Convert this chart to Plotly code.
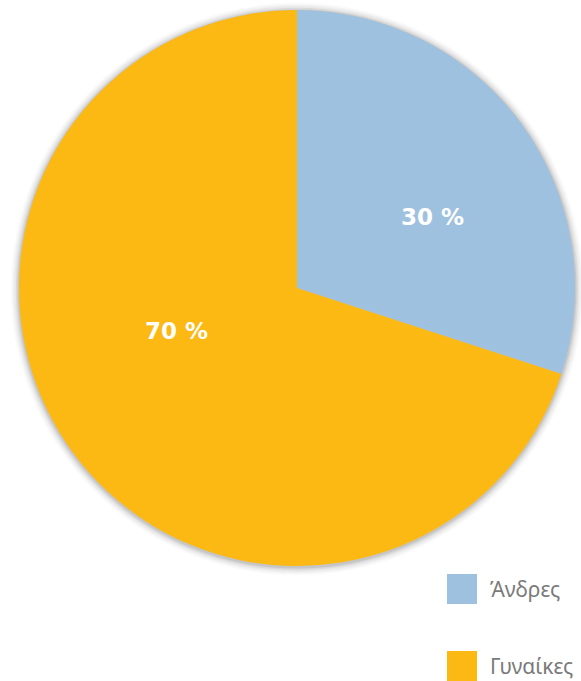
import plotly.graph_objects as go

categories = ["Άνδρες", "Γυναίκες"]
values = [30, 70]
colors = ["#9FC1E0", "#FCB813"]

W, H = 581, 681
cx, cy, r = 297, 288, 278

fig = go.Figure()
fig.add_trace(go.Pie(
    labels=categories,
    values=values,
    sort=False,
    direction="clockwise",
    rotation=0,
    marker=dict(colors=colors, line=dict(width=0)),
    textinfo="none",
    hoverinfo="label+percent",
    showlegend=False,
    domain=dict(x=[(cx - r) / W, (cx + r) / W], y=[1 - (cy + r) / H, 1 - (cy - r) / H]),
))

shapes = []
# soft shadow behind the pie
for i, op in enumerate([0.09, 0.06, 0.04, 0.03, 0.02]):
    d = 1.5 + i * 1.7
    shapes.append(dict(
        type="circle", xref="paper", yref="paper", layer="below",
        x0=(cx - r - d) / W, x1=(cx + r + d) / W,
        y0=1 - (cy + r + d + 1) / H, y1=1 - (cy - r - d + 1) / H,
        fillcolor=f"rgba(0,0,0,{op})", line=dict(width=0),
    ))

annotations = []
# value labels inside slices
label_pos = [(432, 217), (176, 331)]
for v, (lx, ly) in zip(values, label_pos):
    annotations.append(dict(
        text=f"{v} %", xref="paper", yref="paper", x=lx / W, y=1 - ly / H,
        xanchor="center", yanchor="middle", showarrow=False,
        font=dict(family="DejaVu Sans", size=23, color="white", weight="bold"),
    ))

legend_y = [589, 666]
for cat, col, ly in zip(categories, colors, legend_y):
    shapes.append(dict(
        type="rect", xref="paper", yref="paper",
        x0=447 / W, x1=477 / W, y0=1 - (ly + 15) / H, y1=1 - (ly - 15) / H,
        fillcolor=col, line=dict(width=0),
    ))
    annotations.append(dict(
        text=cat, xref="paper", yref="paper", x=488 / W, y=1 - ly / H,
        xanchor="left", yanchor="middle", showarrow=False,
        font=dict(family="Noto Sans", size=21, color="#7a7a7a"),
    ))

fig.update_layout(
    width=W, height=H,
    margin=dict(l=0, r=0, t=0, b=0),
    paper_bgcolor="white", plot_bgcolor="white",
    shapes=shapes, annotations=annotations,
)
fig.write_html(
    "out.html",
    config={"displayModeBar": False},
    post_script="document.body.style.margin='0';document.body.style.padding='0';",
)
